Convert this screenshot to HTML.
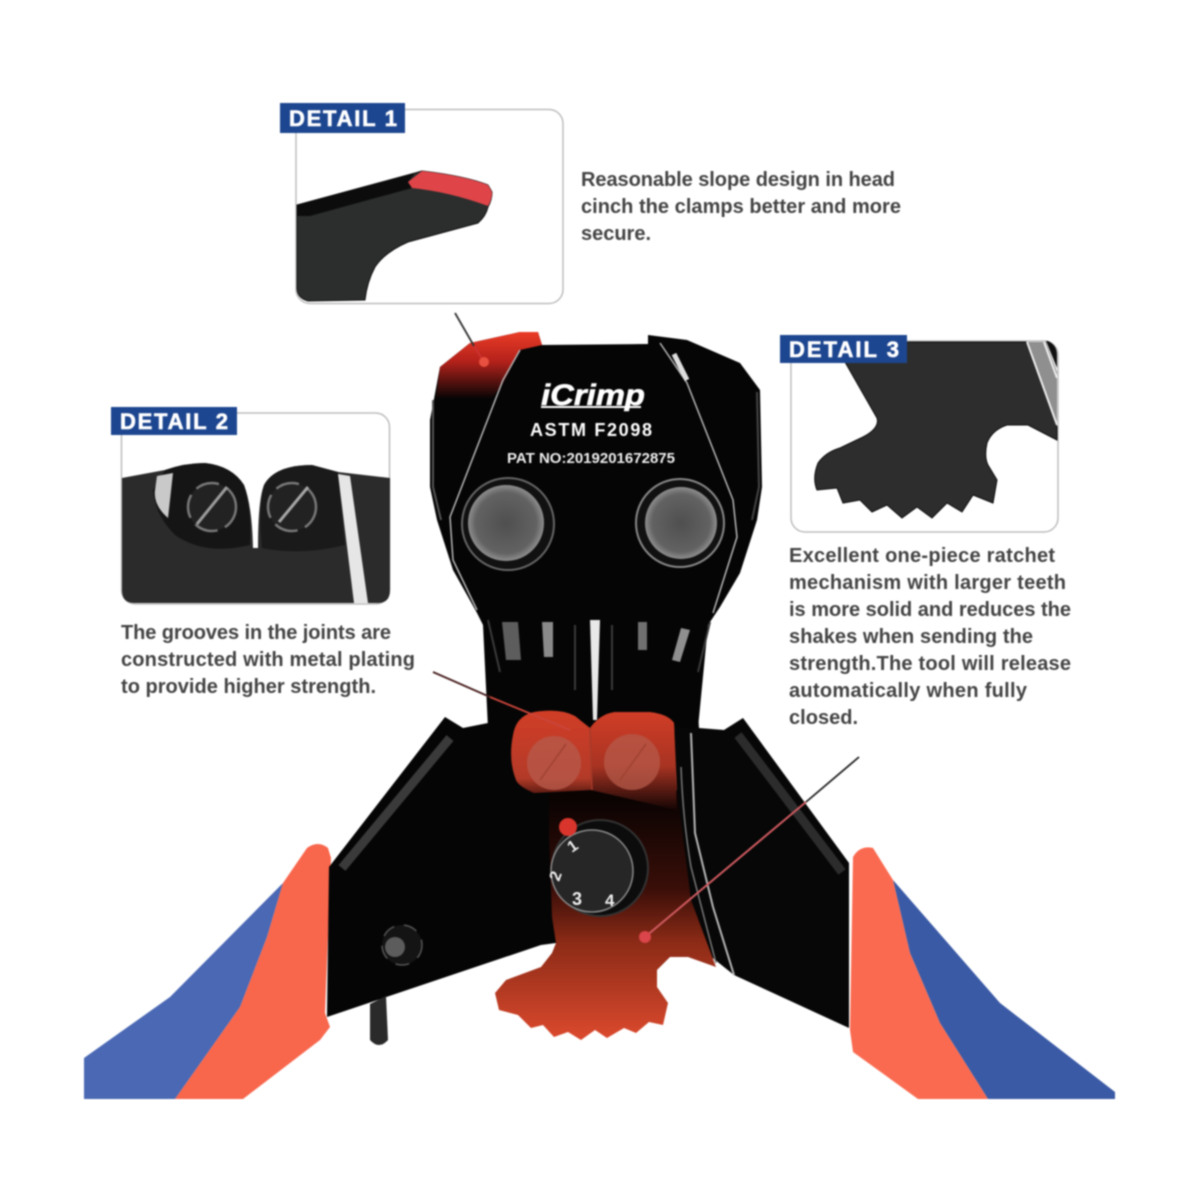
<!DOCTYPE html>
<html><head><meta charset="utf-8"><style>
html,body{margin:0;padding:0;background:#fff}
svg{display:block}
text{font-family:"Liberation Sans",sans-serif}
.t{font-size:20px;fill:#444;font-weight:bold}
.l{font-size:22px;font-weight:bold;fill:#fff;stroke:#fff;stroke-width:.6px}
</style></head><body>
<svg width="1200" height="1200" viewBox="0 0 1200 1200" xmlns="http://www.w3.org/2000/svg">
<defs>
<linearGradient id="hr" gradientUnits="userSpaceOnUse" x1="0" y1="332" x2="0" y2="398"><stop offset="0" stop-color="#ea3b26"/><stop offset=".45" stop-color="#b3211a"/><stop offset="1" stop-color="#0a0505"/></linearGradient>
<linearGradient id="rg" gradientUnits="userSpaceOnUse" x1="0" y1="800" x2="0" y2="1035"><stop offset="0" stop-color="#0a0302"/><stop offset=".38" stop-color="#3a0e08"/><stop offset=".6" stop-color="#8a2a16"/><stop offset="1" stop-color="#d8482c"/></linearGradient>
<linearGradient id="jg" gradientUnits="userSpaceOnUse" x1="0" y1="712" x2="0" y2="800"><stop offset="0" stop-color="#d03d26"/><stop offset=".75" stop-color="#b33a28"/><stop offset="1" stop-color="#3a0f09"/></linearGradient>
<linearGradient id="jgr" gradientUnits="userSpaceOnUse" x1="0" y1="712" x2="0" y2="810"><stop offset="0" stop-color="#d03d26"/><stop offset=".55" stop-color="#a83322"/><stop offset="1" stop-color="#140504"/></linearGradient>
<radialGradient id="rv"><stop offset="0" stop-color="#4f4f4f"/><stop offset=".8" stop-color="#626262"/><stop offset="1" stop-color="#8e8e8e"/></radialGradient>
</defs>
<rect width="1200" height="1200" fill="#fff"/>
<g style="filter:blur(.8px)">

<!-- Detail 1 -->
<rect x="296" y="109.500" width="267" height="194" rx="14" fill="#fff" stroke="#bdbdbd" stroke-width="1.500"/>
<path d="M297 205 L415 173 L422 171 Q465 176 488 185 L492 192 Q492 200 488 207 Q486 216 478 223 L408 242 Q385 252 375 267 Q367 282 365 300 L308 301 Q297 298 297 288 Z" fill="#2b2e2d" stroke="#111" stroke-width="1"/>
<path d="M297 205 L415 173 L408 182 L412 188 L310 216 L297 216 Z" fill="#0c0c0c"/>
<path d="M408 182 L422 171 Q465 176 488 185 L492 192 Q492 200 488 206 Q450 192 412 188 Z" fill="#df4448"/>
<rect x="280" y="103" width="125" height="30" fill="#1d4690"/>
<text x="289" y="126" class="l" textLength="108">DETAIL 1</text>
<text x="581" y="186" class="t" textLength="314">Reasonable slope design in head</text>
<text x="581" y="213" class="t" textLength="320">cinch the clamps better and more</text>
<text x="581" y="240" class="t" textLength="70">secure.</text>

<!-- Detail 2 -->
<rect x="121.500" y="413" width="268" height="191" rx="14" fill="#fff" stroke="#bdbdbd" stroke-width="1.500"/>
<path d="M122 478 L165 470 Q185 463 205 463 Q232 466 244 485 Q252 505 253 548 L258 548 Q258 500 264 485 Q275 465 312 465 L338 472 L390 478 L390 590 Q390 603 378 603 L134 603 Q122 603 122 590 Z" fill="#2b2b2b"/>
<path d="M165 470 Q185 463 205 463 Q232 466 244 485 Q252 510 250 545 Q205 556 175 535 Q155 515 153 490 Z" fill="#151515"/>
<path d="M264 485 Q275 465 312 465 L338 472 L345 545 Q300 556 262 548 Q258 510 264 485 Z" fill="#1a1a1a"/>
<path d="M157 476 L173 473 L168 518 Q153 505 155 490 Z" fill="#c9c9c9"/>
<path d="M338 474 L350 476 L368 603 L354 603 Z" fill="#e6e6e6"/>
<circle cx="212" cy="507" r="24" fill="#222" stroke="#777" stroke-width="2.500" stroke-dasharray="24 8"/>
<path d="M197 524 L227 487" stroke="#9a9a9a" stroke-width="3"/>
<circle cx="292" cy="507" r="24" fill="#222" stroke="#777" stroke-width="2.500" stroke-dasharray="24 8"/>
<path d="M279 522 L308 487" stroke="#a5a5a5" stroke-width="3"/>
<rect x="111" y="407" width="126" height="28" fill="#1d4690"/>
<text x="120" y="429" class="l" textLength="108">DETAIL 2</text>
<text x="121" y="639" class="t" textLength="270">The grooves in the joints are</text>
<text x="121" y="666" class="t" textLength="294">constructed with metal plating</text>
<text x="121" y="693" class="t" textLength="255">to provide higher strength.</text>

<!-- Detail 3 -->
<rect x="791" y="341" width="267" height="191" rx="14" fill="#fff" stroke="#bdbdbd" stroke-width="1.500"/>
<path d="M845 362 L908 342 L1026 342 L1057 427 L1057 440 L1028 425 L1007 425 Q992 430 987 443 Q984 457 988 465 L997 480 L993 503 L973 495 L962 512 L947 503 L932 518 L917 507 L902 518 L887 505 L872 512 L860 500 L843 503 L837 488 L817 490 Q812 478 818 463 Q826 452 840 448 L863 437 Q880 428 877 418 Z" fill="#2d2d2d" stroke="#0c0c0c" stroke-width="1"/>
<path d="M1027 342 L1046 342 L1057 372 L1057 425 Z" fill="#8f8f8f"/>
<path d="M1027 342 L1057 425" stroke="#eee" stroke-width="2"/>
<path d="M1044 342 L1057 378" stroke="#eee" stroke-width="2"/>
<path d="M1046 341 L1048 341 Q1057 345 1057 355 L1057 368 Z" fill="#111"/>
<rect x="780" y="335" width="127" height="28" fill="#1d4690"/>
<text x="789" y="357" class="l" textLength="110">DETAIL 3</text>
<text x="789" y="562" class="t" textLength="266">Excellent one-piece ratchet</text>
<text x="789" y="589" class="t" textLength="277">mechanism with larger teeth</text>
<text x="789" y="616" class="t" textLength="282">is more solid and reduces the</text>
<text x="789" y="643" class="t" textLength="244">shakes when sending the</text>
<text x="789" y="670" class="t" textLength="282">strength.The tool will release</text>
<text x="789" y="697" class="t" textLength="238">automatically when fully</text>
<text x="789" y="724" class="t" textLength="69">closed.</text>

<!-- Left handle -->
<path d="M84 1058 L170 997 L283 883 L267 937 L240 1007 L175 1099 L84 1099 Z" fill="#4a68b4"/>
<path d="M283 883 L307 848 Q318 840 328 848 L331 858 L325 1013 L330 1027 L320 1040 L243 1099 L175 1099 L240 1007 L267 937 Z" fill="#f8664c"/>
<!-- Right handle -->
<path d="M893 880 L1000 1003 L1115 1092 L1115 1099 L988 1099 L940 1023 L910 953 Z" fill="#3a5aa6"/>
<path d="M853 857 Q860 845 873 848 L893 880 L910 953 L940 1023 L988 1099 L918 1099 L853 1052 L850 1030 Z" fill="#fa6a50"/>

<!-- Arms -->
<path d="M445 717 L463 728 L488 723 L488 700 L560 700 L560 750 L556 943 L541 945 L327 1017 L329 867 Z" fill="#050505"/>
<path d="M640 700 L697 700 L699 728 L724 730 L743 718 L849 863 L849 1028 L734 975 L640 900 Z" fill="#070707"/>
<path d="M342 868 L450 738" stroke="#666" stroke-width="9" opacity=".55" fill="none"/>
<path d="M738 735 L842 872" stroke="#4a4a4a" stroke-width="9" opacity=".55" fill="none"/>
<path d="M370 1004 L386 996 L388 1040 Q379 1050 370 1040 Z" fill="#2a2a2a"/>
<circle cx="402" cy="945" r="20" fill="#141414" stroke="#555" stroke-width="1.500" stroke-dasharray="14 10"/>
<circle cx="395" cy="947" r="10" fill="#5c5c5c"/>

<!-- Head -->
<path d="M520 332 L538 332 L542 345 L648 344 L648 335 L687 340 L740 363 L760 390 L762 487 L757 520 L740 573 L720 607 L708 625 L698 728 L488 728 L483 625 L477 613 L453 570 L437 520 L430 487 L430 420 L440 367 L470 343 Z" fill="#050505"/>
<path d="M470 343 L520 332 L538 332 L542 345 L520 350 L502 385 L492 398 L436 398 L440 367 Z" fill="url(#hr)"/>
<path d="M433 400 L433 487 L441 520" fill="none" stroke="#555" stroke-width="2"/>
<path d="M757 392 L759 487 L752 520" fill="none" stroke="#444" stroke-width="2"/>
<path d="M520 350 L503 380 L450 517 L453 560 L477 610 M660 343 L687 383 L733 500 L737 537 L713 613" fill="none" stroke="#b5b5b5" stroke-width="1.500"/>
<path d="M674 354 L687 380" stroke="#ddd" stroke-width="5"/>
<text x="541" y="405" font-size="30" font-weight="bold" font-style="italic" fill="#fff" stroke="#fff" stroke-width=".6" textLength="104" lengthAdjust="spacingAndGlyphs">iCrimp</text>
<rect x="541" y="406" width="100" height="2" fill="#fff"/>
<text x="530" y="436" font-size="18" font-weight="bold" fill="#fff" textLength="122">ASTM F2098</text>
<text x="507" y="463" font-size="14.500" font-weight="bold" fill="#eee" textLength="168" lengthAdjust="spacingAndGlyphs">PAT NO:2019201672875</text>
<circle cx="508" cy="524" r="46" fill="#111" stroke="#666" stroke-width="2"/>
<circle cx="506" cy="523" r="38" fill="url(#rv)"/>
<circle cx="680" cy="523" r="44" fill="#111" stroke="#888" stroke-width="2"/>
<circle cx="681" cy="523" r="36" fill="url(#rv)"/>
<!-- jaws -->
<path d="M502 622 L518 622 L521 660 L506 660 Z" fill="#5d5d5d"/>
<path d="M542 622 L553 622 L553 657 L544 657 Z" fill="#8a8a8a"/>
<path d="M638 622 L647 622 L647 650 L638 650 Z" fill="#6f6f6f"/>
<path d="M681 628 L690 630 L680 662 L672 660 Z" fill="#8f8f8f"/>
<path d="M488 620 L500 672 M710 622 L698 672 M575 625 L575 690 M612 625 L612 690" stroke="#3a3a3a" stroke-width="2" fill="none"/>
<path d="M590 620 L600 620 L597 720 L593 720 Z" fill="#e8e8e8"/>

<!-- Plate -->
<path d="M549 790 L677 790 L691 900 L716 967 L688 957 L670 957 L657 970 L657 987 L668 1003 L663 1025 L649 1022 L636 1033 L624 1028 L607 1038 L595 1030 L581 1040 L568 1032 L554 1037 L543 1025 L531 1028 L518 1015 L499 1010 L495 993 L506 980 L541 967 L552 953 L556 943 L552 917 L549 833 Z" fill="url(#rg)"/>
<path d="M513 735 Q516 716 534 712 Q560 708 575 716 L590 728 Q600 714 615 712 L649 712 Q668 714 674 723 L677 790 L660 795 L591 790 L534 793 Q518 786 516 780 Q508 760 513 735 Z" fill="url(#jg)"/>
<path d="M590 728 Q600 714 615 712 L649 712 Q668 714 674 723 L677 810 L591 790 Z" fill="url(#jgr)"/>
<path d="M590 728 L592 790" stroke="#a83a2a" stroke-width="1.500"/>
<circle cx="554" cy="763" r="27" fill="#b6594a" opacity=".8"/>
<circle cx="632" cy="762" r="28" fill="#b6594a" opacity=".75"/>
<path d="M540 780 L566 744 M620 780 L646 744" stroke="#a04232" stroke-width="1.500"/>

<!-- Right arm seams -->
<path d="M681 767 Q683 820 691 867 L716 963" fill="none" stroke="#777" stroke-width="1.500"/>
<path d="M691 733 L695 833 L713 907 L734 975" fill="none" stroke="#b5b5b5" stroke-width="2"/>

<!-- Dial -->
<circle cx="600" cy="868" r="48" fill="#0c0c0c" stroke="#333" stroke-width="2"/>
<circle cx="592" cy="871" r="41" fill="#262626" stroke="#8a8a8a" stroke-width="1.500"/>
<circle cx="568" cy="827" r="9" fill="#d9352c"/>
<text x="0" y="0" font-size="16" font-weight="bold" fill="#eee" transform="translate(572,853) rotate(-35)">1</text>
<text x="0" y="0" font-size="16" font-weight="bold" fill="#eee" transform="translate(559,882) rotate(-70)">2</text>
<text x="572" y="905" font-size="18" font-weight="bold" fill="#eee">3</text>
<text x="605" y="906" font-size="17" font-weight="bold" fill="#eee">4</text>

<!-- Pointers -->
<line x1="455" y1="313" x2="474" y2="346" stroke="#333" stroke-width="1.800"/>
<line x1="474" y1="346" x2="484" y2="362" stroke="#c33" stroke-width="1.800"/>
<circle cx="484" cy="362" r="5" fill="#e8503f"/>
<line x1="433" y1="672" x2="490" y2="697" stroke="#4a2020" stroke-width="1.800"/>
<line x1="490" y1="697" x2="570" y2="730" stroke="#c9453a" stroke-width="1.800"/>
<line x1="859" y1="757" x2="806" y2="802" stroke="#222" stroke-width="1.800"/>
<line x1="806" y1="802" x2="645" y2="937" stroke="#cf5a60" stroke-width="2"/>
<circle cx="645" cy="937" r="6" fill="#d9454a"/>
</g>
<rect x="0" y="1100" width="1200" height="100" fill="#fff"/>
</svg>
</body></html>
